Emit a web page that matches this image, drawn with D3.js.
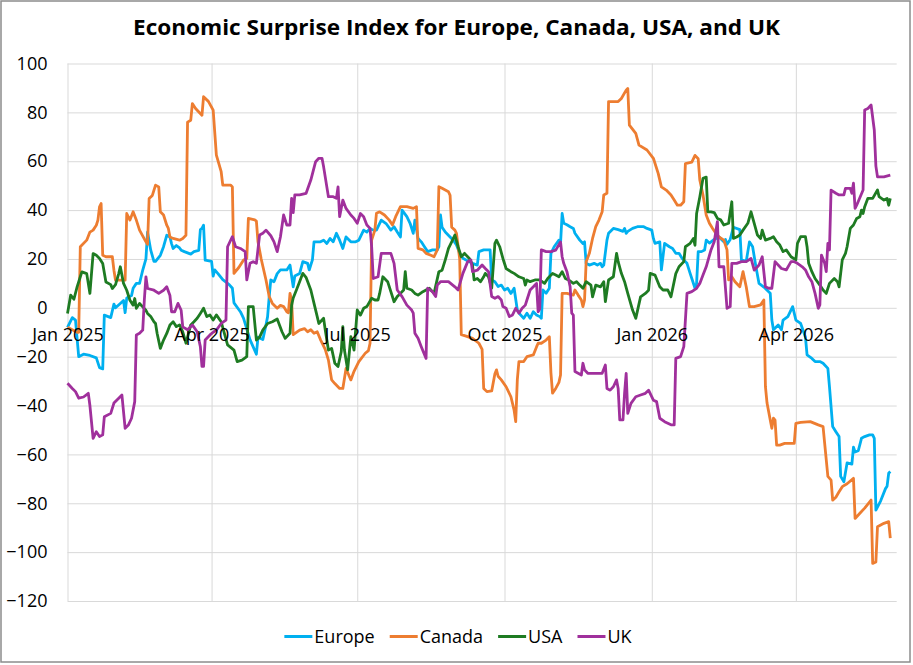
<!DOCTYPE html>
<html>
<head>
<meta charset="utf-8">
<script src="https://cdn.jsdelivr.net/npm/d3@7"></script>
<style>
  body { margin: 0; background: #fff; }
  svg { display: block; font-family: "Open Sans", sans-serif; }
</style>
</head>
<body>
<div id="chart"></div>
<script>
// series as [days since 1 Jan 2025, index value]
const europe = [[0,-8],[3,-4],[5,-5],[7,-20],[10,-19],[14,-19.5],[18,-20.5],[20,-24.5],[22,-25],[23,-3],[27,-4],[29,1.5],[30,0],[33,1.8],[35,3],[36,-2],[37,4],[40,5],[41,8],[43,10],[45,10],[46,12.7],[47,15.4],[49,20],[50,31],[52,23.6],[54,19],[55,19],[58,21.5],[60,25],[62,29.7],[64,29],[65,26.3],[66,24.3],[68,25.5],[70,24.5],[71,23.6],[73,23],[77,22],[79,23],[82,23.5],[83,32],[84,32.5],[85,33.8],[86,19.5],[90,19],[91,13],[92,15.5],[94,14],[97,11.5],[101,9.5],[103,8],[104,2],[108,-1.6],[110,-4.3],[114,-13],[118,-19],[119,-12],[122,-13],[124,-7],[125,-3.6],[126,4.5],[127,11.4],[129,10.7],[131,14],[133,15.5],[137,15.5],[139,17.5],[140,13],[141,8.6],[142,13],[145,14],[147,18.9],[150,18.2],[151,15.5],[153,19.6],[154,27],[158,27],[160,27.7],[162,26.3],[164,28.4],[166,27],[168,30.5],[170,27.7],[172,24.3],[174,29],[177,27],[180,27],[182,27.7],[185,31.8],[187,31],[189,32.5],[191,31.8],[193,31.8],[196,35.9],[199,34.5],[202,31.8],[204,33.2],[206,31],[208,29],[209,40],[212,37.3],[214,34.6],[216,30.5],[217,35.9],[219,28.4],[221,27],[223,25],[225,23],[228,23.7],[231,23.7],[232,25],[233,38],[234,33],[236,31],[239,29],[241,27.7],[243,25.7],[245,22.3],[247,20.3],[249,19.6],[251,18.9],[253,18.2],[256,17.5],[257,23],[260,23.7],[264,23.7],[265,11.4],[267,10.7],[269,8.7],[271,9.3],[273,7.3],[275,8],[277,5.9],[279,8],[281,-0.9],[283,-2.9],[285,-4.3],[287,-2.2],[289,-4.3],[291,-1.6],[293,-2.9],[295,-3.6],[296,-4.3],[297,7.3],[299,6],[301,8],[302,22.3],[304,25],[307,27.7],[308,26.3],[309,38.6],[310,34.6],[312,34],[314,33.2],[316,32.5],[317,30.5],[320,27.7],[322,26.3],[323,27],[324,18.2],[326,17.5],[329,18.2],[331,17.5],[333,18.2],[334,16.8],[335,17.5],[337,27.7],[338,30.5],[341,32.5],[344,32],[347,31.3],[348,32.5],[349,30.5],[350,31.3],[353,32.5],[356,33.2],[360,33.2],[362,32.5],[365,31.8],[366,28.4],[367,26.4],[370,27],[371,15.5],[373,26.4],[376,25],[378,24.3],[380,22.3],[382,22.3],[384,20.2],[387,18.2],[389,14],[392,8],[393,10],[394,23],[396,23],[398,23.7],[399,27.7],[401,26.5],[404,28],[407,29],[410,27],[411,28],[412,26],[414,28],[416,33],[420,32],[421,19.6],[424,19],[426,27],[428,25],[430,17],[432,10],[435,8.5],[439,6],[440,-5],[441,-9],[444,-7],[446,-9],[447,-5],[450,-3.6],[453,0.5],[455,-5],[458,-6.4],[461,-12],[462,-19.3],[465,-20.7],[467,-22],[470,-22],[472,-22.7],[475,-24.8],[476,-32.3],[478,-48.6],[480,-50.7],[482,-52.7],[483,-69],[485,-71.2],[487,-63.5],[490,-64],[491,-57],[492,-59],[494,-58.5],[496,-53.4],[498,-52.7],[501,-52],[503,-52],[504,-53.4],[505,-82.8],[508,-79],[511,-74],[512,-73],[513,-67.7],[514,-67]];

const canada = [[0,-8],[6,-10],[7,-10],[8,25],[12,27.7],[14,31],[16,31.8],[18,33.8],[19,35.9],[20,41.3],[21,42.7],[22,21.5],[24,20.9],[28,20.9],[29,15.4],[30,11.3],[36,11.3],[37,38.6],[39,35.9],[41,39.3],[43,35.9],[45,31.8],[49,27],[50,26],[51,44.7],[53,46],[55,50.2],[57,49.5],[58,39.3],[60,38],[62,33.8],[63,32.5],[64,29],[66,28.4],[70,27.7],[72,28.4],[74,29.7],[75,76],[77,76.8],[78,83.6],[80,81.6],[84,78.8],[85,86.4],[88,84.5],[91,80.9],[93,62.5],[96,55.7],[97,50.2],[102,50.2],[103,49.5],[104,14.1],[107,16.5],[110,19.6],[112,20.2],[113,36.6],[117,36],[118,35.5],[119,27],[121,20],[124,11.4],[126,4.6],[128,1.8],[131,-0.2],[133,1],[135,0.5],[137,-1.6],[138,-2],[139,5.9],[140,3],[141,-11],[145,-9.1],[148,-8.5],[150,-9.8],[152,-9],[154,-10.4],[156,-9.8],[158,-13],[161,-17],[163,-21.4],[165,-29.5],[167,-31],[170,-33],[172,-33],[174,-24.8],[176,-28],[177,-29.5],[179,-26],[182,-22],[186,-18.6],[188,-17.5],[189,-14.5],[190,27.7],[192,31.8],[193,38.7],[195,39.3],[198,38],[201,35.9],[203,33.9],[205,37.3],[208,41.4],[212,41.4],[216,40.7],[218,41.4],[219,24.3],[222,23.7],[224,22.3],[227,21.5],[229,20.9],[231,23.7],[232,49.6],[234,48.9],[238,47.5],[239,46],[240,33],[242,31.8],[243,30.5],[245,20],[246,-11],[249,-11.6],[253,-12.5],[257,-14.5],[259,-17],[260,-33],[262,-34.3],[265,-34],[267,-27],[268,-25.4],[269,-28],[271,-29.5],[274,-32.3],[277,-36.4],[279,-41.9],[280,-46.6],[281,-29.5],[282,-22],[285,-22],[287,-20],[291,-19.3],[293,-16],[294,-14.5],[296,-14.5],[299,-13.2],[301,-11.8],[302,-26.6],[303,-34.9],[305,-33],[307,-30.5],[308,-27.5],[309,5.9],[312,5.9],[316,5.2],[317,7.3],[319,5.2],[321,3.2],[322,0.5],[323,3.2],[324,18.9],[326,22.3],[328,28.4],[330,33.2],[332,35.9],[334,39.3],[335,46.2],[337,46.9],[338,84.4],[341,84.4],[344,84.4],[346,85.7],[349,89.1],[350,89.8],[351,74.8],[355,71.4],[357,66.6],[362,64.6],[366,61.2],[369,55],[371,49.5],[374,48.2],[377,46.2],[379,44.1],[381,42],[383,42],[385,43.4],[386,59],[390,59.6],[392,62.4],[394,61],[395,52.3],[397,46.2],[399,38],[401,34.6],[403,32.5],[405,30.5],[407,29],[410,27.7],[412,23.7],[413,11.4],[415,12.7],[417,10.7],[420,8.6],[422,14.8],[424,8.6],[426,0.5],[429,0.5],[433,1.2],[435,3.2],[436,-32.3],[437,-39],[439,-45.9],[440,-49.3],[441,-45.2],[442,-46],[443,-56.2],[445,-56.2],[448,-55.5],[454,-55.5],[455,-47.3],[458,-46.9],[464,-46.6],[469,-47.9],[472,-48.6],[473,-55.5],[475,-69],[477,-70.5],[478,-78.7],[480,-77.5],[482,-75.3],[484,-73.2],[487,-72],[491,-69.8],[492,-86.2],[495,-84.1],[498,-82],[502,-78.7],[503,-104.6],[505,-104],[506,-89.6],[510,-88.2],[513,-87.5],[514,-94.3]];

const usa = [[0,-2.3],[2,5.2],[4,3.5],[6,8.6],[8,12.7],[9,14.7],[12,14],[14,5.9],[16,22.2],[18,21.5],[20,20.2],[22,18.1],[24,10.6],[27,9.5],[28,7.9],[30,9.5],[32,14],[33,16.8],[35,10],[37,7.2],[39,3.1],[41,1.1],[42,3.8],[43,-0.2],[45,1.8],[47,0.4],[49,-1],[50,-2.3],[52,-3.6],[54,-5.7],[55,-6.4],[56,-10.5],[58,-16.6],[60,-13.2],[62,-10.5],[64,-7],[66,-5.7],[68,-7.7],[70,-7],[72,-9.8],[74,-14.5],[77,-7],[79,-5.7],[81,-4.3],[83,-2.3],[85,-0.2],[87,-3.6],[89,-2.9],[91,-5],[93,-2.9],[96,-5.7],[98,-10.5],[100,-15.2],[104,-17.3],[106,-22],[109,-21.4],[112,-20],[113,0.5],[116,0.5],[118,-13.2],[120,-12],[122,-9.1],[125,-6.4],[128,-5.7],[131,-4.6],[134,-9.8],[136,-12.5],[139,-10.4],[140,1],[141,4],[143,7.3],[145,10.7],[147,14.1],[149,12.5],[152,7.3],[154,1.8],[156,-3.6],[157,-6.4],[160,-4.3],[161,-9],[163,-17.3],[165,-16.6],[167,-22.7],[169,-24],[171,-18],[172,-7.7],[173,-17.3],[175,-25.4],[177,-11.8],[179,-17.3],[181,-0.9],[183,-3],[185,-0.2],[187,0.5],[190,3.9],[192,3.2],[194,3.2],[195,5.9],[197,12.7],[200,10.7],[202,6.6],[204,2.5],[206,4.6],[208,5.9],[210,7.3],[211,14.8],[212,8],[215,7.3],[217,5.9],[219,5.2],[222,6.6],[226,8],[229,5.9],[232,14.8],[234,15.4],[236,19.6],[238,24.3],[240,27],[242,29.8],[244,25],[246,20.9],[248,22.3],[251,20.2],[253,17.5],[254,11.4],[256,12],[258,10.7],[260,12.7],[261,14.1],[263,12.7],[265,8],[267,26.4],[268,27.7],[270,25],[272,20.2],[274,16.1],[277,14.8],[279,14.1],[282,12.7],[285,12],[286,9.3],[287,11.4],[289,10.7],[292,11.4],[295,11.4],[298,10],[300,12],[303,14.1],[305,13.4],[307,12.7],[309,14.8],[311,12],[313,11.4],[316,10],[318,10.7],[320,9.3],[322,8],[324,10.7],[327,9.3],[328,4.5],[330,9.3],[333,8.6],[335,10.7],[336,2.5],[338,11.4],[341,12.7],[343,22.3],[344,18.9],[346,14.1],[348,10.7],[350,5.9],[353,-0.9],[355,-4.3],[358,4.5],[361,5.9],[363,7.2],[364,14.1],[367,13.4],[370,8.6],[372,7.3],[375,7.3],[377,4.5],[380,14],[382,16.8],[385,18.9],[386,25],[389,26.4],[391,28.4],[392,25.6],[393,38.6],[395,45.4],[397,53],[399,53.5],[400,39.3],[402,39.3],[404,39],[406,36.6],[408,36],[410,33.9],[413,34.6],[415,43.4],[416,28.4],[418,29],[420,29.8],[422,31.8],[425,34.6],[427,39.3],[429,34.6],[431,29.8],[433,28.4],[434,31.8],[436,27.7],[439,28.4],[441,29.1],[443,27],[445,25.7],[447,23],[449,23.7],[452,20.9],[455,19.6],[456,26.4],[458,29.1],[461,29.1],[462,25],[463,18.2],[465,14.8],[467,12],[470,9.3],[472,7.3],[474,5.9],[476,10],[479,12],[481,10.7],[482,8.6],[484,19.6],[486,22.3],[487,25],[489,32.5],[491,33.9],[493,36.6],[495,37.3],[496,40],[497,38.6],[498,41.4],[500,44.8],[503,44.8],[506,48.2],[507,45.5],[510,44.1],[512,44.8],[513,42],[514,44.8]];

const uk = [[0,-30.9],[3,-33],[5,-34.3],[7,-37],[10,-36.5],[13,-35],[14,-40],[16,-53.4],[18,-50.7],[20,-52.7],[22,-52],[23,-44.6],[27,-43.2],[29,-39],[32,-37],[34,-35.7],[36,-49.3],[38,-48],[40,-45.2],[42,-38.4],[43,-11.1],[45,-10.4],[47,-9.1],[48,3.2],[49,12.7],[50,7.9],[54,7.2],[57,5.9],[60,7.2],[62,8.6],[64,5],[65,-1.6],[67,-1.6],[69,1.8],[71,-1],[72,-7.8],[75,-9],[78,-7],[81,-9.8],[83,-15.9],[84,-24],[85,-24],[86,-13.2],[89,-11.1],[91,-10],[93,-9.1],[96,-6.4],[99,-5],[100,25],[103,29.1],[105,25],[108,24.3],[111,23],[112,11.4],[114,18.2],[116,18.9],[118,18.2],[120,29.8],[122,30.5],[124,31.8],[127,29.5],[129,27],[131,23],[133,29],[135,38],[137,33.9],[139,33.9],[140,44.8],[141,39],[142,46.2],[145,46.2],[149,46.8],[152,52.3],[155,59.8],[157,61.2],[159,61.2],[160,57.7],[162,49.5],[163,45.5],[166,45.5],[168,44.8],[169,49.5],[170,37.3],[172,44.1],[174,40.7],[177,38],[179,36.6],[181,34.6],[183,38.6],[185,37.3],[187,33.9],[189,32.5],[190,25],[191,12],[194,12.7],[196,22.3],[199,22.3],[202,22.3],[204,18.2],[206,7.3],[209,4.6],[212,1.1],[215,-0.9],[216,-2.2],[217,-10.4],[219,-12.5],[221,-15.9],[224,-20.7],[225,8],[228,6.6],[230,4.6],[231,9.3],[233,10.7],[238,10.7],[242,8.6],[244,7.3],[247,14.1],[250,18.9],[252,19.6],[253,14.8],[256,15.4],[259,17.5],[261,16.1],[263,14.8],[265,4.6],[267,3.9],[269,4.6],[271,3.2],[272,0.5],[274,-0.2],[276,-3.6],[278,-2.9],[280,-0.2],[282,-2.2],[284,-0.2],[286,1.1],[287,3.2],[289,7.3],[291,8.6],[293,10],[294,-1.6],[295,-0.5],[296,23.7],[299,23],[302,23],[305,23.6],[308,27],[309,20.9],[310,18.2],[312,14.8],[314,8.6],[315,-2.2],[316,-3],[317,-26.1],[319,-26.8],[321,-27.5],[322,-22.7],[323,-25.4],[325,-26.8],[329,-26.8],[334,-26.8],[336,-23.4],[337,-33],[339,-33.7],[341,-32.3],[343,-29.5],[344,-33],[345,-45.9],[347,-45.9],[348,-35],[349,-26.8],[350,-43.2],[352,-39.1],[355,-36.4],[358,-35.7],[361,-35],[363,-33.7],[366,-37.8],[368,-38.4],[370,-45.2],[373,-46.6],[377,-47.9],[379,-47.9],[380,-20.7],[383,-20],[385,-15.9],[387,5.9],[390,6.6],[393,8],[395,10],[397,13.4],[399,16.8],[402,23.7],[404,27],[406,35.3],[407,16.8],[410,16.8],[412,-0.2],[414,0.5],[415,18.2],[418,18.2],[421,18.9],[424,18.9],[427,20.2],[429,15.4],[432,17.5],[434,20.9],[436,8.6],[438,8],[440,8],[442,18.9],[446,16.1],[449,15.5],[452,18.9],[454,18.9],[456,18.2],[459,16.8],[461,15.5],[463,12.7],[465,10.7],[467,5.9],[469,-0.2],[470,1.2],[471,21.6],[473,18.2],[474,14.8],[475,26.4],[476,23.7],[477,48.2],[480,46.9],[482,46.2],[485,46.2],[486,48.9],[489,48.9],[490,46.9],[491,51],[492,40.7],[493,42],[497,48.2],[498,81],[500,81.6],[502,83],[504,72.8],[505,58],[506,53.6],[510,53.6],[514,54.3]];

const seriesNames = ["Europe", "Canada", "USA", "UK"];
const seriesColors = ["#00b0f0", "#ed7d31", "#1e7b22", "#a0309c"];
const yTicks = [100, 80, 60, 40, 20, 0, -20, -40, -60, -80, -100, -120];

const width = 913, height = 665;
const startDate = new Date(2025, 0, 1);
const endDate = new Date(2026, 5, 3);

const svg = d3.select("#chart").append("svg")
    .attr("width", width)
    .attr("height", height);

svg.append("rect")
    .attr("width", width).attr("height", height)
    .attr("fill", "#fff");

// chart frame
svg.append("rect")
    .attr("x", 1).attr("y", 1)
    .attr("width", 909).attr("height", 661)
    .attr("fill", "none")
    .attr("stroke", "#8c8c8c")
    .attr("stroke-width", 1.5);

svg.append("text")
    .attr("x", 456.5).attr("y", 35)
    .attr("text-anchor", "middle")
    .attr("font-size", 21)
    .attr("font-weight", "bold")
    .attr("fill", "#000")
    .attr("textLength", 647)
    .attr("lengthAdjust", "spacingAndGlyphs")
    .text("Economic Surprise Index for Europe, Canada, USA, and UK");

const x = d3.scaleTime()
    .domain([startDate, endDate])
    .range([67.5, 896.7]);

const y = d3.scaleLinear()
    .domain([-120, 100])
    .range([601, 63.5]);

const xTicks = d3.timeMonth.every(3).range(startDate, endDate);

// horizontal grid + y labels
svg.append("g")
    .attr("transform", "translate(67.5,0)")
    .call(d3.axisLeft(y).tickValues(yTicks).tickSize(-(896.7 - 67.5)).tickPadding(20))
    .call(g => g.select(".domain").remove())
    .call(g => g.selectAll(".tick line").attr("stroke", "#d9d9d9").attr("stroke-width", 1))
    .call(g => g.selectAll(".tick text")
        .attr("fill", "#000")
        .attr("font-size", 18)
        .attr("font-family", "Open Sans, sans-serif"));

// vertical grid
svg.append("g")
    .attr("transform", `translate(0,601)`)
    .call(d3.axisBottom(x).tickValues(xTicks).tickSize(-(601 - 63.5)).tickFormat(""))
    .call(g => g.select(".domain").remove())
    .call(g => g.selectAll(".tick line").attr("stroke", "#d9d9d9").attr("stroke-width", 1));

const line = d3.line()
    .x(d => x(d3.timeDay.offset(startDate, d[0])))
    .y(d => y(d[1]));

[europe, canada, usa, uk].forEach((data, i) => {
    svg.append("path")
        .datum(data)
        .attr("fill", "none")
        .attr("stroke", seriesColors[i])
        .attr("stroke-width", 2.8)
        .attr("stroke-linejoin", "round")
        .attr("d", line);
});

// x labels sit just under the zero line, drawn over the lines
svg.append("g")
    .attr("transform", `translate(0,${y(0)})`)
    .call(d3.axisBottom(x).tickValues(xTicks).tickSize(0).tickPadding(20).tickFormat(d3.timeFormat("%b %Y")))
    .call(g => g.select(".domain").remove())
    .call(g => g.selectAll(".tick text")
        .attr("fill", "#000")
        .attr("font-size", 18)
        .attr("font-family", "Open Sans, sans-serif"));

// legend
const legend = svg.append("g");
let lx = 0;
seriesNames.forEach((name, i) => {
    const item = legend.append("g").attr("transform", `translate(${lx},0)`);
    item.append("line")
        .attr("x1", 0).attr("x2", 28)
        .attr("y1", 0).attr("y2", 0)
        .attr("stroke", seriesColors[i])
        .attr("stroke-width", 3);
    const t = item.append("text")
        .attr("x", 30).attr("y", 6.5)
        .attr("font-size", 18)
        .attr("fill", "#000")
        .text(name);
    lx += 30 + t.node().getComputedTextLength() + 15;
});
const legendWidth = lx - 15;
legend.attr("transform", `translate(${458 - legendWidth / 2},636.5)`);
</script>
</body>
</html>
